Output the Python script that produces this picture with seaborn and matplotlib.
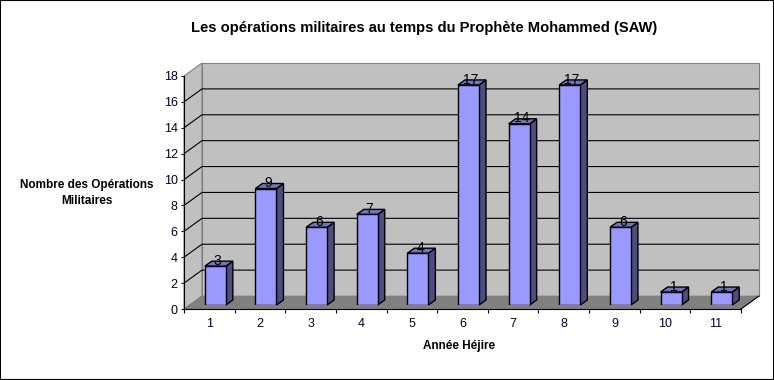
import matplotlib
matplotlib.use('Agg')
import matplotlib.pyplot as plt
import pandas as pd
import seaborn as sns
from matplotlib.patches import Polygon, Rectangle

years = ['1', '2', '3', '4', '5', '6', '7', '8', '9', '10', '11']
operations = [3, 9, 6, 7, 4, 17, 14, 17, 6, 1, 1]
y_ticks = list(range(0, 20, 2))

title = 'Les opérations militaires au temps du Prophète Mohammed (SAW)'
x_title = 'Année Héjire'
y_title = 'Nombre des Opérations\nMilitaires'

FRONT = '#9999FF'
TOP = '#7373BF'
SIDE = '#4D4D80'
WALL = '#C0C0C0'
FLOOR = '#808080'
LW = 0.8

W, H = 774, 380
# front plane of the 3d box, in pixels from top left
left, right, y_base, y_top = 184, 741, 309, 76
wall_dx, wall_dy = 18, 13
bar_dx, bar_dy = 7, 5
shift_x, shift_y = 6, 4

sns.set_theme(style='white')
plt.rcParams['font.family'] = ['Liberation Sans', 'DejaVu Sans']

df = pd.DataFrame({'year': years, 'operations': operations})

fig = plt.figure(figsize=(W / 100, H / 100), dpi=100, facecolor='white')
fig.add_artist(Rectangle((0, 0), 1, 1, transform=fig.transFigure, fill=False,
                         edgecolor='black', linewidth=1.5))


def box(x0, y0):
    return [x0 / W, 1 - y0 / H, (right - left) / W, (y_base - y_top) / H]


ax = fig.add_axes(box(left, y_base))
ax.patch.set_alpha(0)
ax.set_xlim(-0.5, len(years) - 0.5)
ax.set_ylim(0, y_ticks[-1])

px_x = (len(years)) / (right - left)
px_y = y_ticks[-1] / (y_base - y_top)
x0, x1 = -0.5, len(years) - 0.5
top = y_ticks[-1]
dx, dy = wall_dx * px_x, wall_dy * px_y

# walls and floor
ax.add_patch(Polygon([(x0 + dx, dy), (x1 + dx, dy), (x1 + dx, top + dy), (x0 + dx, top + dy)],
                     closed=True, facecolor=WALL, edgecolor=FLOOR, linewidth=LW, clip_on=False, zorder=1))
ax.add_patch(Polygon([(x0, 0), (x0 + dx, dy), (x0 + dx, top + dy), (x0, top)],
                     closed=True, facecolor=WALL, edgecolor=FLOOR, linewidth=LW, clip_on=False, zorder=1))
ax.add_patch(Polygon([(x0, 0), (x1, 0), (x1 + dx, dy), (x0 + dx, dy)],
                     closed=True, facecolor=FLOOR, edgecolor=FLOOR, linewidth=0.5, clip_on=False, zorder=1))

# gridlines run along the left wall then the back wall
for t in y_ticks[1:]:
    if t < top:
        ax.plot([x0, x0 + dx, x1 + dx], [t, t + dy, t + dy], color='black', linewidth=LW,
                clip_on=False, zorder=2, solid_capstyle='butt')
ax.plot([x1, x1 + dx], [0, dy], color='black', linewidth=LW, clip_on=False, zorder=2)

# bars sit in the middle of the depth, so on their own shifted axes
bar_ax = fig.add_axes(box(left + shift_x, y_base - shift_y))
bar_ax.patch.set_alpha(0)
sns.barplot(data=df, x='year', y='operations', order=years, color=FRONT, saturation=1,
            width=0.415, edgecolor='black', linewidth=LW + 0.2, ax=bar_ax, zorder=4)
bar_ax.set_xlim(ax.get_xlim())
bar_ax.set_ylim(ax.get_ylim())
bar_ax.axis('off')

ddx, ddy = bar_dx * px_x, bar_dy * px_y
for bar, value in list(zip(bar_ax.patches, operations)):
    a = bar.get_x()
    b = a + bar.get_width()
    bar_ax.add_patch(Polygon([(b, 0), (b + ddx, ddy), (b + ddx, value + ddy), (b, value)], closed=True,
                             facecolor=SIDE, edgecolor='black', linewidth=LW + 0.2, clip_on=False, zorder=3))
    bar_ax.add_patch(Polygon([(a, value), (b, value), (b + ddx, value + ddy), (a + ddx, value + ddy)], closed=True,
                             facecolor=TOP, edgecolor='black', linewidth=LW + 0.2, clip_on=False, zorder=3))
    bar_ax.text((a + b) / 2 + ddx / 3, value + 0.42, str(value), ha='center', va='center',
                fontsize=10, color='black', clip_on=False, zorder=6)

# axis on the front plane
for side in ['top', 'right']:
    ax.spines[side].set_visible(False)
for side in ['left', 'bottom']:
    ax.spines[side].set_color('black')
    ax.spines[side].set_linewidth(LW)
ax.set_yticks(y_ticks)
ax.set_yticklabels([str(t) for t in y_ticks], fontsize=9, color='#000033')
ax.set_xticks([i - 0.5 for i in range(len(years) + 1)])
ax.set_xticklabels([])
ax.tick_params(axis='y', length=2.5, width=LW, color='black', pad=2, left=True)
ax.tick_params(axis='x', length=3, width=LW, color='black', bottom=True)
for i, year in enumerate(years):
    ax.annotate(year, (i, 0), xytext=(0, -15), textcoords='offset pixels', ha='center', va='center',
                fontsize=9, color='#000033', annotation_clip=False)

fig.text(424 / W, 1 - 28 / H, title, ha='center', va='center', fontsize=10.6, fontweight='bold', color='black')
fig.text(459 / W, 1 - 346 / H, x_title, ha='center', va='center', fontsize=8.5, fontweight='bold', color='black')
fig.text(87 / W, 1 - 193 / H, y_title, ha='center', va='center', fontsize=8.5, fontweight='bold',
         color='black', linespacing=1.35)

fig.savefig('out.png', dpi=100)
